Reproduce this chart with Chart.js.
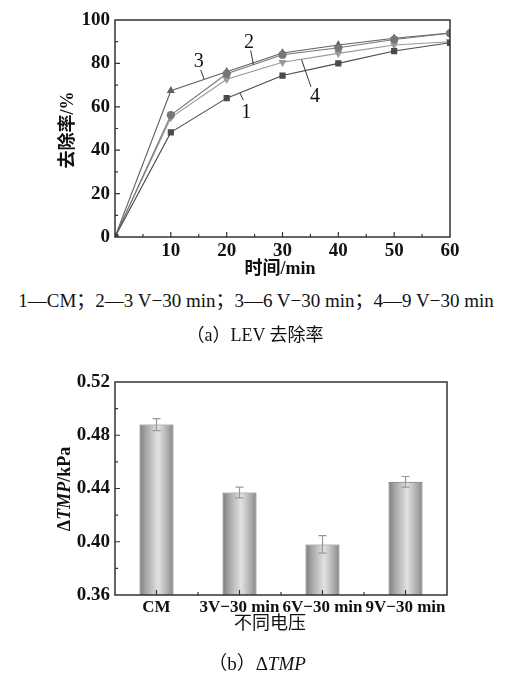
<!DOCTYPE html>
<html lang="zh">
<head>
<meta charset="UTF-8">
<title>LEV 去除率 / ΔTMP</title>
<script src="https://cdn.jsdelivr.net/npm/chart.js"></script>
<style>
  body { margin: 0; background: #fff; }
  #wrap { position: relative; width: 510px; height: 673px; overflow: hidden; font-family: "Liberation Serif", "Noto Sans CJK SC", serif; color: #111; }
  #c1 { position: absolute; left: 0; top: 0; }
  #c2 { position: absolute; left: 0; top: 362px; }
  .t { position: absolute; white-space: nowrap; transform: translate(-50%, -50%); line-height: 1; }
  .rot { transform: translate(-50%, -50%) rotate(-90deg); }
  .b { font-weight: bold; }
</style>
</head>
<body>
<div id="wrap">
  <canvas id="c1" width="510" height="262"></canvas>
  <canvas id="c2" width="510" height="255"></canvas>

  <div class="t rot b" style="left:67px; top:130px; font-size:18px;">去除率/%</div>
  <div class="t b" style="left:280px; top:268px; font-size:18px;">时间/min</div>
  <div class="t" style="left:256px; top:300px; font-size:19px;">1—CM；2—3 V−30 min；3—6 V−30 min；4—9 V−30 min</div>
  <div class="t" style="left:255px; top:335px; font-size:18px;">（a）LEV 去除率</div>

  <div class="t rot b" style="left:64px; top:489px; font-size:18px;">Δ<i>TMP</i>/kPa</div>
  <div class="t" style="left:270px; top:623px; font-size:18px;">不同电压</div>
  <div class="t" style="left:257px; top:663px; font-size:19px;">（b）Δ<i>TMP</i></div>
</div>

<script>
// ---------- 数据 (a) 去除率 ----------
const times = [0, 10, 20, 30, 40, 50, 60];
const cm  = [0, 48.2, 64, 74.4, 80, 85.7, 89.5];   // 1 - CM
const v3  = [0, 56.2, 75.2, 84, 87.2, 91, 93.9];   // 2 - 3 V-30 min
const v6  = [0, 67.4, 76.2, 84.8, 88.5, 91.6, 94]; // 3 - 6 V-30 min
const v9  = [0, 55, 72.7, 80.5, 84.6, 88.5, 90];   // 4 - 9 V-30 min

// ---------- 数据 (b) ΔTMP ----------
const voltages = ['CM', '3V−30 min', '6V−30 min', '9V−30 min'];
const dtmp     = [0.488, 0.437, 0.398, 0.445];
const dtmpErr  = [0.0045, 0.004, 0.0066, 0.004];

// 曲线标号 (数据坐标): 文字位置, 引线起点, 引线终点
const notes = [
  { text: '1', at: [23.5, 57.1], from: [23.0, 63.0], to: [22.4, 66.3] },
  { text: '2', at: [24.0, 89.6], from: [24.3, 86.0], to: [24.8, 79.4] },
  { text: '3', at: [15.0, 80.6], from: [15.35, 77.0], to: [15.95, 72.8] },
  { text: '4', at: [35.8, 64.7], from: [35.1, 69.2], to: [33.4, 81.8] }
];

const SERIF = '"Liberation Serif", "Times New Roman", serif';
const tickFont = { family: SERIF, size: 19, weight: 'bold' };

// 坐标框 + 向内刻度
const frame = {
  id: 'frame',
  afterDraw(chart) {
    const { ctx, chartArea: a } = chart;
    const xs = chart.scales.x, ys = chart.scales.y;
    const cfg = chart.options.plugins.frame;
    ctx.save();
    ctx.strokeStyle = '#333';
    ctx.lineWidth = 1.5;
    ctx.strokeRect(a.left, a.top, a.right - a.left, a.bottom - a.top);
    ctx.lineWidth = 1.2;
    ctx.beginPath();
    cfg.xMajor.forEach(v => { const p = xs.getPixelForValue(v); ctx.moveTo(p, a.bottom); ctx.lineTo(p, a.bottom - 5); });
    cfg.xMinor.forEach(v => { const p = xs.getPixelForValue(v); ctx.moveTo(p, a.bottom); ctx.lineTo(p, a.bottom - 3); });
    cfg.yMajor.forEach(v => { const p = ys.getPixelForValue(v); ctx.moveTo(a.left, p); ctx.lineTo(a.left + 5, p); });
    cfg.yMinor.forEach(v => { const p = ys.getPixelForValue(v); ctx.moveTo(a.left, p); ctx.lineTo(a.left + 3, p); });
    ctx.stroke();
    ctx.restore();
  }
};

// 曲线标号
const labels = {
  id: 'labels',
  afterDatasetsDraw(chart) {
    const { ctx } = chart;
    const xs = chart.scales.x, ys = chart.scales.y;
    ctx.save();
    ctx.strokeStyle = '#333';
    ctx.lineWidth = 1;
    ctx.fillStyle = '#111';
    ctx.font = '20px ' + SERIF;
    ctx.textAlign = 'center';
    ctx.textBaseline = 'middle';
    notes.forEach(n => {
      ctx.beginPath();
      ctx.moveTo(xs.getPixelForValue(n.from[0]), ys.getPixelForValue(n.from[1]));
      ctx.lineTo(xs.getPixelForValue(n.to[0]), ys.getPixelForValue(n.to[1]));
      ctx.stroke();
      ctx.fillText(n.text, xs.getPixelForValue(n.at[0]), ys.getPixelForValue(n.at[1]));
    });
    ctx.restore();
  }
};

// 误差棒
const errorBars = {
  id: 'errorBars',
  afterDatasetsDraw(chart) {
    const { ctx } = chart;
    const ys = chart.scales.y;
    const meta = chart.getDatasetMeta(0);
    ctx.save();
    ctx.strokeStyle = '#999';
    ctx.lineWidth = 1.2;
    meta.data.forEach((el, i) => {
      const t = ys.getPixelForValue(dtmp[i] + dtmpErr[i]);
      const b = ys.getPixelForValue(dtmp[i] - dtmpErr[i]);
      ctx.beginPath();
      ctx.moveTo(el.x, t); ctx.lineTo(el.x, b);
      ctx.moveTo(el.x - 4, t); ctx.lineTo(el.x + 4, t);
      ctx.moveTo(el.x - 4, b); ctx.lineTo(el.x + 4, b);
      ctx.stroke();
    });
    ctx.restore();
  }
};

const BAR_FRAC = 0.41;
function barGradient(context) {
  const chart = context.chart;
  const xs = chart.scales.x;
  if (!xs || !chart.chartArea) return '#bbb';
  const cx = xs.getPixelForValue(context.dataIndex);
  const w = xs.width / voltages.length * BAR_FRAC;
  const g = chart.ctx.createLinearGradient(cx - w / 2, 0, cx + w / 2, 0);
  g.addColorStop(0, '#7c7c7c');
  g.addColorStop(0.18, '#a4a4a4');
  g.addColorStop(0.55, '#e2e2e2');
  g.addColorStop(0.85, '#a8a8a8');
  g.addColorStop(1, '#858585');
  return g;
}

function line(data, color, style, rot) {
  return {
    data: times.map((t, i) => ({ x: t, y: data[i] })),
    borderColor: color,
    borderWidth: 1.1,
    pointStyle: style,
    pointRotation: rot || 0,
    pointRadius: 3.6,
    pointBackgroundColor: color,
    pointBorderColor: color,
    tension: 0
  };
}

new Chart(document.getElementById('c1'), {
  type: 'line',
  data: {
    datasets: [
      line(cm, '#4a4a4a', 'rect'),
      line(v3, '#767676', 'circle'),
      line(v6, '#606060', 'triangle'),
      line(v9, '#999999', 'triangle', 180)
    ]
  },
  options: {
    responsive: false,
    animation: false,
    layout: { padding: { top: 20, right: 60, left: 0, bottom: 0 } },
    plugins: {
      legend: { display: false },
      tooltip: { enabled: false },
      frame: {
        xMajor: [10, 20, 30, 40, 50],
        xMinor: [5, 15, 25, 35, 45, 55],
        yMajor: [20, 40, 60, 80],
        yMinor: [10, 30, 50, 70, 90]
      }
    },
    scales: {
      x: {
        type: 'linear', min: 0, max: 60,
        grid: { display: false, drawTicks: false },
        border: { display: false },
        ticks: { stepSize: 10, padding: 3, color: '#111', font: tickFont, maxRotation: 0,
                 callback: v => v === 0 ? '' : v },
        afterFit: s => { s.height = 25; }
      },
      y: {
        min: 0, max: 100,
        grid: { display: false, drawTicks: false },
        border: { display: false },
        ticks: { stepSize: 20, padding: 5, color: '#111', font: tickFont },
        afterFit: s => { s.width = 115; }
      }
    }
  },
  plugins: [frame, labels]
});

new Chart(document.getElementById('c2'), {
  type: 'bar',
  data: {
    labels: voltages,
    datasets: [{
      data: dtmp,
      backgroundColor: barGradient,
      borderColor: '#6a6a6a',
      borderWidth: 1,
      barPercentage: BAR_FRAC,
      categoryPercentage: 1
    }]
  },
  options: {
    responsive: false,
    animation: false,
    layout: { padding: { top: 20, right: 63, left: 0, bottom: 0 } },
    plugins: {
      legend: { display: false },
      tooltip: { enabled: false },
      frame: {
        xMajor: [0, 1, 2, 3],
        xMinor: [0.5, 1.5, 2.5],
        yMajor: [0.40, 0.44, 0.48],
        yMinor: [0.38, 0.42, 0.46, 0.50]
      }
    },
    scales: {
      x: {
        grid: { display: false, drawTicks: false },
        border: { display: false },
        ticks: { padding: 2, color: '#111', font: { family: SERIF, size: 17, weight: 'bold' },
                 autoSkip: false, maxRotation: 0 },
        afterFit: s => { s.height = 22; }
      },
      y: {
        min: 0.36, max: 0.52,
        grid: { display: false, drawTicks: false },
        border: { display: false },
        ticks: { stepSize: 0.04, padding: 5, color: '#111', font: tickFont,
                 callback: v => v.toFixed(2) },
        afterFit: s => { s.width = 115; }
      }
    }
  },
  plugins: [frame, errorBars]
});
</script>
</body>
</html>
